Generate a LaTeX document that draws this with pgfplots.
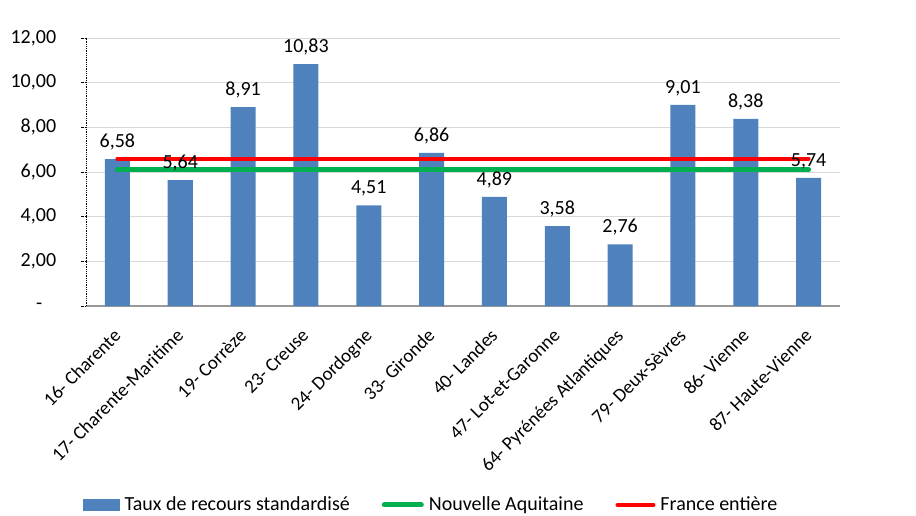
\documentclass[border=0pt]{standalone}
\usepackage{pgfplots}
\pgfplotsset{compat=1.18}
\usepackage{fontspec}
\setmainfont{Carlito}
\definecolor{barblue}{RGB}{79,129,189}
\definecolor{exgreen}{RGB}{0,176,80}
\definecolor{exred}{RGB}{255,0,0}
\definecolor{gridgray}{RGB}{217,217,217}
\begin{document}
\fontsize{20}{24}\selectfont
\begin{tikzpicture}
\useasboundingbox (-86pt,-209pt) rectangle (830pt,306pt);
\begin{axis}[
  scale only axis,
  width=754pt, height=268pt,
  xmin=-0.5, xmax=11.5,
  ymin=0, ymax=12,
  ytick={0,2,4,6,8,10,12},
  yticklabels={{\makebox[20pt][l]{-}},{2,00},{4,00},{6,00},{8,00},{10,00},{12,00}},
  ymajorgrids,
  grid style={gridgray, line width=1pt},
  axis lines*=left,
  axis x line*=bottom,
  x axis line style={gray!80, line width=1.2pt},
  y axis line style={black, densely dotted, line width=0.8pt},
  ytick style={black, densely dotted, line width=0.8pt},
  major tick length=5pt,
  tick align=outside,
  yticklabel style={xshift=-18pt, font=\fontsize{20}{24}\selectfont},
  xtick={0,...,11},
  xticklabels={16- Charente,17- Charente-Maritime,19- Corrèze,23- Creuse,24- Dordogne,33- Gironde,40- Landes,47- Lot-et-Garonne,64- Pyrénées Atlantiques,79- Deux-Sèvres,86- Vienne,87- Haute-Vienne},
  xticklabel style={xshift=-5pt, yshift=-15pt, rotate=45, anchor=north east, font=\fontsize{19}{22}\selectfont, inner sep=1pt},
  x tick style={draw=none},
  minor xtick={-0.5,0.5,...,11.5},
  minor tick length=6pt,
  minor x tick style={gray!80, line width=1.2pt},
  legend style={at={(0.4575,-0.7425)}, anchor=center, draw=none, legend columns=3,
    font=\fontsize{20}{24}\selectfont, inner sep=0pt,
    /tikz/every odd column/.append style={column sep=3pt},
    /tikz/every even column/.append style={column sep=30pt}},
  legend cell align=left,
  /pgf/number format/assume math mode=true,
]
\addplot[ybar, bar width=25pt, fill=barblue, draw=none,
  nodes near coords,
  nodes near coords style={font=\fontsize{20}{24}\selectfont, black, yshift=2pt,
    /pgf/number format/.cd, use comma, fixed, fixed zerofill, precision=2},
  legend image code/.code={\fill[barblue] (0pt,-6pt) rectangle (37pt,6pt);}]
  coordinates {(0,6.58) (1,5.64) (2,8.91) (3,10.83) (4,4.51) (5,6.86) (6,4.89) (7,3.58) (8,2.76) (9,9.01) (10,8.38) (11,5.74)};
\addlegendentry{Taux de recours standardisé}
\addplot[exgreen, line width=5pt, line cap=round,
  legend image code/.code={\draw[exgreen, line width=5pt, line cap=round] (2.5pt,0pt) -- (39.5pt,0pt);}]
  coordinates {(0,6.1) (11,6.1)};
\addlegendentry{Nouvelle Aquitaine}
\addplot[exred, line width=4pt, line cap=round,
  legend image code/.code={\draw[exred, line width=4pt, line cap=round] (2pt,0pt) -- (38pt,0pt);}]
  coordinates {(0,6.6) (11,6.6)};
\addlegendentry{France entière}
\end{axis}
\end{tikzpicture}
\end{document}
